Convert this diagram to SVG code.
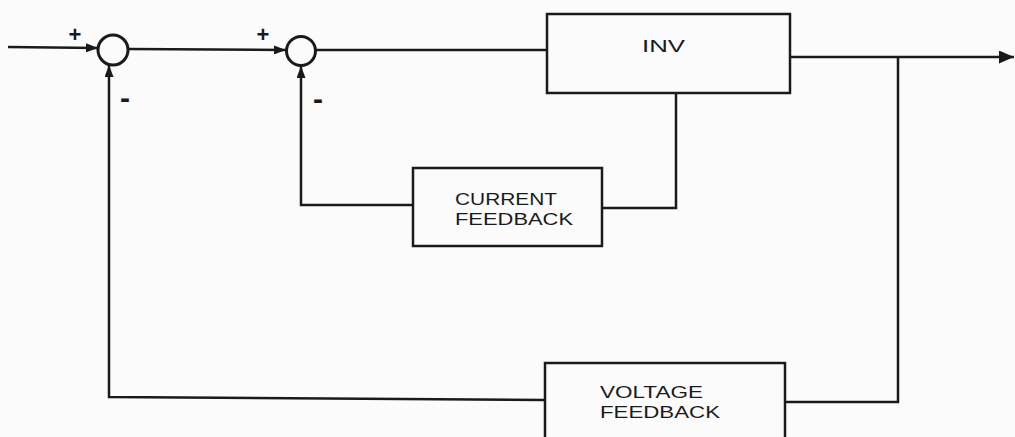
<svg xmlns="http://www.w3.org/2000/svg" width="1015" height="437" viewBox="0 0 1015 437">
<style>
.ln{fill:none;stroke:#1a1a1a;stroke-width:2.5;stroke-linejoin:miter}
.bx{fill:none;stroke:#1a1a1a;stroke-width:2.5}
.sj{fill:none;stroke:#1a1a1a;stroke-width:3}
.t{font-family:"Liberation Sans",Arial,sans-serif;font-size:17px;fill:#1a1a1a}
.p{font-family:"Liberation Sans",Arial,sans-serif;font-size:22px;font-weight:bold;fill:#1a1a1a}
.m{font-family:"Liberation Sans",Arial,sans-serif;font-size:30px;font-weight:bold;fill:#1a1a1a}
</style>
<defs>
<marker id="ah" viewBox="0 0 12 9" refX="12" refY="4.5" markerWidth="12" markerHeight="9" orient="auto" markerUnits="userSpaceOnUse">
<path d="M0,0 L12,4.5 L0,9 z" fill="#1a1a1a"/>
</marker>
<marker id="ahBig" viewBox="0 0 15 13" refX="15" refY="6.5" markerWidth="15" markerHeight="13" orient="auto" markerUnits="userSpaceOnUse">
<path d="M0,0 L15,6.5 L0,13 z" fill="#1a1a1a"/>
</marker>
</defs>
<rect width="1015" height="437" fill="#fbfbfb"/>
<g id="connectors">
<path class="ln" d="M8,47 L98,48" marker-end="url(#ah)"/>
<path class="ln" d="M128,49 L286,50" marker-end="url(#ah)"/>
<path class="ln" d="M316,50 L547,50"/>
<path class="ln" d="M790,57 L1014,57" marker-end="url(#ahBig)"/>
<path class="ln" d="M898,57 L898,402 L785,402"/>
<path class="ln" d="M545,400 L109,397 L109,65" marker-end="url(#ah)"/>
<path class="ln" d="M676,92 L676,208 L602,208"/>
<path class="ln" d="M413,205 L301,205 L301,66" marker-end="url(#ah)"/>
</g>
<g id="sum1">
<circle class="sj" cx="113" cy="50" r="15"/>
<text class="p" x="75" y="42" text-anchor="middle">+</text>
<text class="m" x="125" y="108" text-anchor="middle">-</text>
</g>
<g id="sum2">
<circle class="sj" cx="301" cy="51" r="14.5"/>
<text class="p" x="263" y="42" text-anchor="middle">+</text>
<text class="m" x="318" y="109" text-anchor="middle">-</text>
</g>
<g id="inv">
<rect class="bx" x="547" y="14" width="243" height="79"/>
<text class="t" x="642" y="52" textLength="43" lengthAdjust="spacingAndGlyphs">INV</text>
</g>
<g id="current-feedback">
<rect class="bx" x="413" y="168" width="189" height="78"/>
<text class="t" x="455" y="205" textLength="102" lengthAdjust="spacingAndGlyphs">CURRENT</text>
<text class="t" x="455" y="225" textLength="118" lengthAdjust="spacingAndGlyphs">FEEDBACK</text>
</g>
<g id="voltage-feedback">
<rect class="bx" x="545" y="363" width="240" height="90"/>
<text class="t" x="600" y="398" textLength="103" lengthAdjust="spacingAndGlyphs">VOLTAGE</text>
<text class="t" x="600" y="418" textLength="120" lengthAdjust="spacingAndGlyphs">FEEDBACK</text>
</g>
</svg>
